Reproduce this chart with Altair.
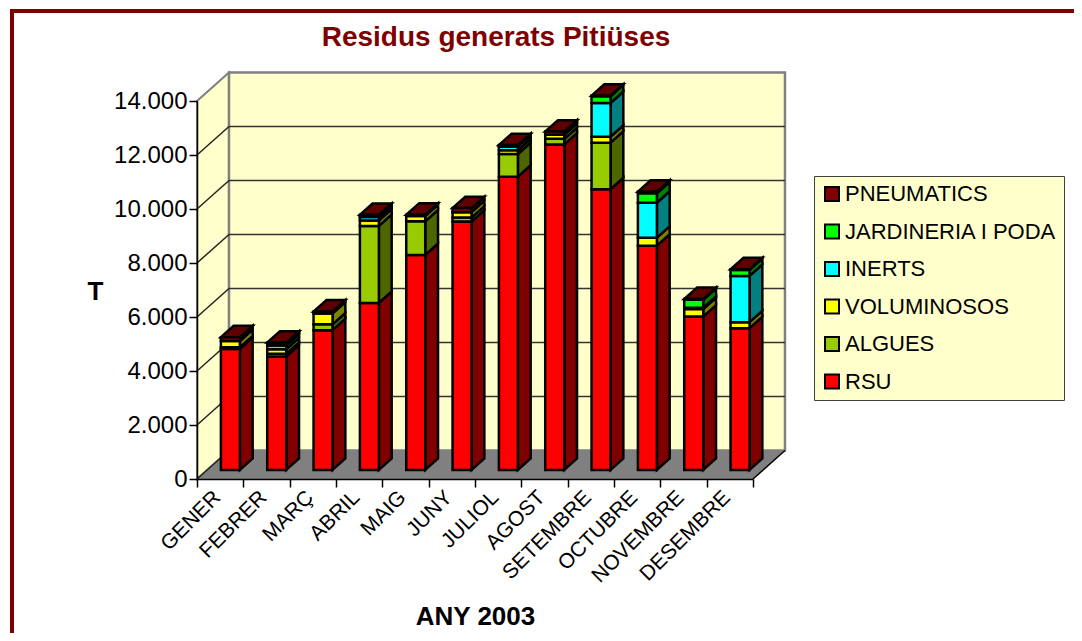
import altair as alt
import pandas as pd

months = ["GENER","FEBRER","MARÇ","ABRIL","MAIG","JUNY","JULIOL","AGOST","SETEMBRE","OCTUBRE","NOVEMBRE","DESEMBRE"]
rsu        = [4480,4200,5175,6185,7960,9195,10860,12050,10395,8305,5680,5250]
algues     = [60,100,215,2850,1245,150,840,210,1725,0,0,0]
voluminosos= [235,165,405,200,195,200,135,150,220,295,275,220]
inerts     = [0,140,0,130,0,0,135,0,1250,1295,50,1715]
jardineria = [0,30,0,30,0,0,30,0,250,350,295,220]
pneumatics = [140,80,70,50,50,150,30,120,20,60,30,25]

series_names = ["RSU","ALGUES","VOLUMINOSOS","INERTS","JARDINERIA I PODA","PNEUMATICS"]
series_vals = [rsu,algues,voluminosos,inerts,jardineria,pneumatics]
front_cols = ["#FF0000","#99CC00","#FFFF00","#00FFFF","#00FF00","#800000"]
side_cols  = ["#800000","#4D6600","#808000","#008080","#008000","#5A0000"]
top_col = "#5F0000"
legend_order = series_names[::-1]
legend_cols = front_cols[::-1]

DX, DY = 0.69, 1056.0     # depth of the 3D box in data units
D0, D1 = 0.32, 0.72       # depth range occupied by the bars
BW = 0.41
WALL = "#FFFFCC"
FONT = "Liberation Sans"

xax = alt.Axis(values=list(range(13)), title="ANY 2003", titleFontSize=26, titleFontWeight="bold", titleColor="black",
               titleX=278, titleY=137, titleAnchor="middle", titleBaseline="middle", titleFont=FONT,
               labelExpr="(" + repr(months) + ")[datum.value] || ''",
               labelAngle=-45, labelAlign="right", labelBaseline="middle", labelOffset=20, labelPadding=7,
               labelFontSize=21, labelColor="black", labelFont=FONT, labelOverlap=False, labelLimit=300, labelFlush=False,
               tickSize=8, tickColor="black", tickWidth=1.5, domainColor="black", domainWidth=1.5, grid=False, zindex=1)
yax = alt.Axis(values=list(range(0,14001,2000)), title="T", titleFontSize=26, titleFontWeight="bold", titleColor="black",
               titleAngle=0, titleX=-102, titleY=190, titleAlign="center", titleBaseline="middle", titleFont=FONT,
               labelExpr="replace(format(datum.value,','),',','.')", labelFontSize=24, labelColor="black", labelFont=FONT,
               labelPadding=2, labelOverlap=False,
               tickSize=8, tickColor="black", tickWidth=1.5, domainColor="black", domainWidth=1.5, grid=False, zindex=1)
xs = alt.Scale(domain=[0,12], nice=False, zero=False)
ys = alt.Scale(domain=[0,14000], nice=False, zero=False)
def X(f): return alt.X(f"{f}:Q", scale=xs, axis=xax)
def Y(f): return alt.Y(f"{f}:Q", scale=ys, axis=yax, stack=None)

wall_left = pd.DataFrame({"x":[0,DX],"y":[0,DY],"y2":[14000,14000+DY]})
wall_back = pd.DataFrame({"x":[DX,12+DX],"y":[DY,DY],"y2":[14000+DY,14000+DY]})
floor = pd.DataFrame({"y":[0,DY],"x":[0,DX],"x2":[12,12+DX]})
edge = pd.DataFrame({"x":[12,12+DX],"y":[0,DY]})
grid_vals = list(range(2000,14000,2000))
back_grid = pd.DataFrame({"x":[DX]*len(grid_vals),"x2":[12+DX]*len(grid_vals),"y":[v+DY for v in grid_vals]})
side = []
for v in [0]+grid_vals:
    side += [{"k":v,"x":0,"y":v},{"k":v,"x":DX,"y":v+DY}]
side_grid = pd.DataFrame(side)

fronts, sides, tops = [], [], []
for i in range(12):
    base = 0
    xl = i + 0.5 - BW/2
    xr = xl + BW
    for s,(name,vals) in enumerate(zip(series_names,series_vals)):
        v = vals[i]
        if v <= 0: continue
        y0, y1 = base, base+v
        fronts.append({"serie":name,"x":xl+D0*DX,"x2":xr+D0*DX,"y":y0+D0*DY,"y2":y1+D0*DY})
        for d in (D0,D1):
            sides.append({"face":f"{i}-{s}","fill":side_cols[s],"x":xr+d*DX,"y":y0+d*DY,"y2":y1+d*DY})
        base = y1
    for d in (D0,D1):
        tops.append({"face":i,"y":base+d*DY,"x":xl+d*DX,"x2":xr+d*DX})
fronts, sides, tops = map(pd.DataFrame,(fronts,sides,tops))

gray = "#808080"
layers = [
    alt.Chart(wall_left).mark_area(color=WALL, stroke=gray, strokeWidth=2).encode(x=X("x"),y=Y("y"),y2="y2"),
    alt.Chart(wall_back).mark_area(color=WALL, stroke=gray, strokeWidth=2.5).encode(x=X("x"),y=Y("y"),y2="y2"),
    alt.Chart(floor).mark_area(orient="horizontal", color=gray).encode(y=Y("y"),x=X("x"),x2="x2"),
    alt.Chart(back_grid).mark_rule(color="#333333", strokeWidth=1.5).encode(x=X("x"),x2="x2",y=Y("y")),
    alt.Chart(side_grid).mark_line(color="#222222", strokeWidth=1.5).encode(x=X("x"),y=Y("y"),detail="k:N"),
    alt.Chart(edge).mark_line(color="black", strokeWidth=1.5).encode(x=X("x"),y=Y("y")),
    alt.Chart(sides).mark_area(stroke="black", strokeWidth=2.5, opacity=1).encode(
        x=X("x"),y=Y("y"),y2="y2",detail="face:N",fill=alt.Fill("fill:N",scale=None,legend=None)),
    alt.Chart(tops).mark_area(orient="horizontal", color=top_col, stroke="black", strokeWidth=2.5).encode(
        y=Y("y"),x=X("x"),x2="x2",detail="face:N"),
    alt.Chart(fronts).mark_bar(stroke="black", strokeWidth=2.5, opacity=1).encode(
        x=X("x"),x2="x2",y=Y("y"),y2="y2",
        color=alt.Color("serie:N",scale=alt.Scale(domain=legend_order,range=legend_cols),
            legend=alt.Legend(title=None,orient="none",legendX=617,legendY=75,fillColor=WALL,strokeColor="#404040",
                padding=7,rowPadding=15.5,symbolType="square",symbolSize=196,symbolStrokeWidth=2,symbolStrokeColor="black",
                labelFontSize=22,labelColor="black",labelFont=FONT,labelLimit=400,labelOffset=2,
                values=legend_order))),
    alt.Chart(pd.DataFrame({"a":[0]})).mark_rule(color="#800000",strokeWidth=4).encode(
        x=alt.value(-185),y=alt.value(-92),y2=alt.value(540)),
    alt.Chart(pd.DataFrame({"a":[0]})).mark_rule(color="#800000",strokeWidth=4).encode(
        x=alt.value(-187),x2=alt.value(885),y=alt.value(-90)),
]

chart = alt.layer(*layers).properties(
    width=556, height=378,
    padding={"left":189,"top":93,"right":321,"bottom":154},
    autosize=alt.AutoSizeParams(type="none"),
    background="white",
    title=alt.TitleParams("Residus generats Pitiüses", fontSize=28, fontWeight="bold", color="#800000", font=FONT,
                          anchor="middle", dx=21, dy=45, offset=0),
).configure_view(stroke=None)

chart.save("out.html", embed_options={"renderer": "svg", "actions": False})
